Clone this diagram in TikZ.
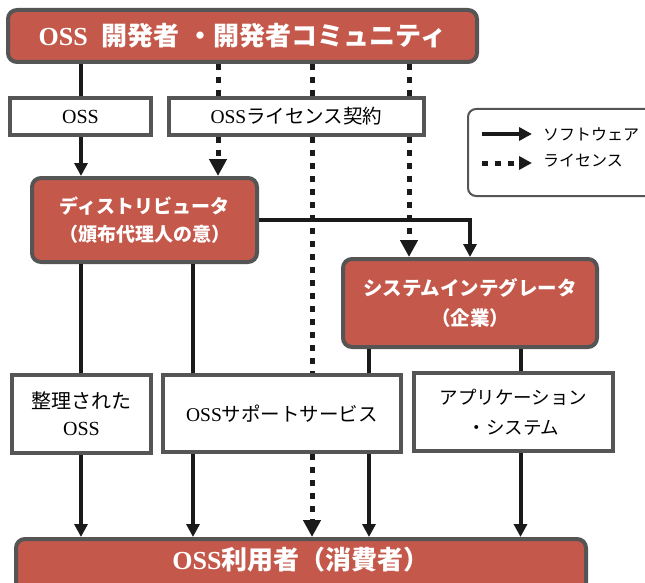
\documentclass[tikz,border=0pt]{standalone}
\usepackage{fontspec}
\setmainfont{Liberation Serif}
\newfontfamily\jp{Noto Sans CJK JP}
\usetikzlibrary{arrows.meta}
\definecolor{boxred}{RGB}{196,88,74}
\definecolor{edgegray}{RGB}{85,85,85}
\definecolor{ink}{RGB}{26,26,26}
\newcommand{\J}[1]{{\jp #1}}
\newcommand{\fs}[2]{\fontsize{#1}{#2}\selectfont}
\begin{document}
\begin{tikzpicture}[x=1pt,y=-1pt,
  redbox/.style={draw=edgegray, line width=4pt, fill=boxred, rounded corners=9pt,
    text=white, align=center, inner sep=0pt},
  whitebox/.style={draw=edgegray, line width=4pt, fill=white, align=center,
    inner sep=0pt, text=black},
  sw/.style={draw=ink, line width=4pt},
  swa/.style={sw, -{Triangle[width=13pt,length=13pt]}},
  lw/.style={draw=ink, line width=5pt, dash pattern=on 6pt off 7pt},
  lwa/.style={lw, -{Triangle[width=17pt,length=17pt]}},
  lega/.style={draw=ink, -{Triangle[width=13pt,length=13pt]}},
]
\useasboundingbox (0,0) rectangle (645,583);
\clip (0,0) rectangle (645,583);

% boxes
\node[redbox, minimum width=469pt, minimum height=52pt, font=\bfseries\fs{26}{30}] (top) at (242.5,36)
  {OSS\hspace{14pt}\J{開発者}\hspace{8pt}\J{・開発者コミュニティ}};
\node[whitebox, minimum width=141pt, minimum height=37pt, font=\fs{20}{22}] (oss) at (80.5,116.5)
  {OSS};
\node[whitebox, minimum width=255pt, minimum height=37pt, font=\fs{19.5}{22}] (lic) at (296.5,116.5)
  {OSS\J{ライセンス契約}};
\node[redbox, minimum width=225pt, minimum height=84pt, font=\bfseries\fs{19}{28}] (dist) at (144.5,220)
  {\J{ディストリビュータ}\\\J{（頒布代理人の意）}};
\node[redbox, minimum width=254pt, minimum height=88pt, font=\bfseries\fs{19.5}{30}] (si) at (470,303)
  {\J{システムインテグレータ}\\\J{（企業）}};
\node[whitebox, minimum width=139pt, minimum height=78pt, font=\fs{20}{27}] (org) at (81.5,414)
  {\J{整理された}\\OSS};
\node[whitebox, minimum width=238pt, minimum height=77pt, font=\fs{19.5}{22}] (sup) at (282,413.5)
  {OSS\J{サポートサービス}};
\node[whitebox, minimum width=199pt, minimum height=78pt, font=\fs{18.5}{30}] (app) at (513.5,412)
  {\J{アプリケーション}\\\J{・システム}};
\node[redbox, minimum width=570pt, minimum height=66pt, anchor=north] (cons) at (301,537)
  {};
\node[text=white, inner sep=0pt, font=\bfseries\fs{26}{30}] (constext) at (301,560)
  {OSS\J{利用者（消費者）}};

% legend
\node[draw=edgegray, line width=2pt, rounded corners=8pt, minimum width=200pt,
  minimum height=87pt, anchor=north west, inner sep=0pt] (leg) at (467,108) {};
\coordinate (l1s) at (482,134);
\coordinate (l1e) at (532,134);
\coordinate (l2s) at (482,163);
\coordinate (l2e) at (532,163);
\draw[lega, line width=4pt] (l1s) -- (l1e);
\draw[lega, line width=5pt, dash pattern=on 6pt off 7pt] (l2s) -- (l2e);
\node[anchor=west, inner sep=0pt, font=\fs{16}{18}] (l1t) at (543,134) {\J{ソフトウェア}};
\node[anchor=west, inner sep=0pt, font=\fs{16}{18}] (l2t) at (543,161) {\J{ライセンス}};

% x positions of the connectors
\coordinate (xa) at (81,0);
\coordinate (xb) at (193,0);
\coordinate (xl) at (218,0);
\coordinate (xm) at (312,0);
\coordinate (xn) at (409,0);
\coordinate (xs) at (369,0);
\coordinate (xt) at (520.5,0);

% software flow
\draw[sw] (top.south -| xa) -- (oss.north -| xa);
\draw[swa] (oss.south -| xa) -- (dist.north -| xa);
\draw[sw] (dist.south -| xa) -- (org.north -| xa);
\draw[sw] (dist.south -| xb) -- (sup.north -| xb);
\draw[swa] (dist.east) -| (si.north);
\draw[sw] (si.south -| xs) -- (sup.north -| xs);
\draw[sw] (si.south -| xt) -- (app.north -| xt);
\draw[swa] (org.south -| xa) -- (cons.north -| xa);
\draw[swa] (sup.south -| xb) -- (cons.north -| xb);
\draw[swa] (sup.south -| xs) -- (cons.north -| xs);
\draw[swa] (app.south -| xt) -- (cons.north -| xt);

% license flow
\draw[lw] (top.south -| xl) -- (lic.north -| xl);
\draw[lwa] (lic.south -| xl) -- (dist.north -| xl);
\draw[lw] (top.south -| xm) -- (lic.north -| xm);
\draw[lw] (lic.south -| xm) -- (sup.north -| xm);
\draw[lwa] (sup.south -| xm) -- (cons.north -| xm);
\draw[lw] (top.south -| xn) -- (lic.north -| xn);
\draw[lwa] (lic.south -| xn) -- (si.north -| xn);
\end{tikzpicture}
\end{document}
